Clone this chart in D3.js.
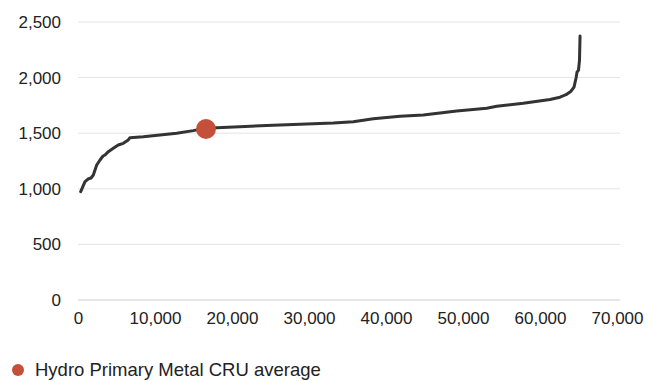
<!DOCTYPE html>
<html><head><meta charset="utf-8">
<script src="https://cdn.jsdelivr.net/npm/d3@7"></script>
<style>body{margin:0;background:#fff}svg{display:block}</style>
</head><body>
<svg id="c" width="651" height="381"></svg>
<script>
const xTicks = [0,10000,20000,30000,40000,50000,60000,70000];
const yTicks = [0,500,1000,1500,2000,2500];
const capacity = [350,909,1300,1690,1990,2430,2860,3250,3510,3940,4580,5230,5880,6530,6750,8480,10650,12820,14970,16490,18010,21000,24510,28830,33160,35750,38350,41820,44840,49180,53080,54380,57830,61300,62600,63380,64030,64420,64680,64810,65000,65130,65200];
const cost = [974,1064,1088,1097,1124,1214,1259,1295,1304,1334,1364,1394,1409,1439,1460,1469,1484,1499,1523,1544,1548,1558,1570,1581,1592,1603,1630,1652,1664,1700,1724,1742,1769,1803,1824,1846,1878,1915,1996,2050,2068,2158,2374];
const hydroX = [16620];
const hydroY = [1538];
const legendLabel = "Hydro Primary Metal CRU average";

const svg = d3.select("#c");
const x = d3.scaleLinear().domain([0,70000]).range([78,617]);
const y = d3.scaleLinear().domain([0,2500]).range([300,22]);
const font = "Liberation Sans, Arial, sans-serif";

// grid
svg.append("g").selectAll("line").data(yTicks).join("line")
  .attr("x1",78).attr("x2",620)
  .attr("y1",d=>y(d)).attr("y2",d=>y(d))
  .attr("stroke",d=>d===0?"#cfcfcf":"#e4e4e4").attr("stroke-width",1);

// y axis labels
const yAxis = d3.axisLeft(y).tickValues(yTicks).tickFormat(d3.format(",")).tickSize(0).tickPadding(0);
const gy = svg.append("g").attr("transform","translate(61,0)").call(yAxis);
gy.select(".domain").remove();
gy.selectAll("text").attr("font-family",font).attr("font-size",17).attr("fill","#222");

const xAxis = d3.axisBottom(x).tickValues(xTicks).tickFormat(d3.format(",")).tickSize(0).tickPadding(0);
const gx = svg.append("g").attr("transform","translate(0,312)").call(xAxis);
gx.select(".domain").remove();
gx.selectAll("text").attr("font-family",font).attr("font-size",17).attr("fill","#222");

// line
const pts = capacity.map((c,i)=>[c,cost[i]]);
svg.append("path").datum(pts)
  .attr("d", d3.line().x(d=>x(d[0])).y(d=>y(d[1])))
  .attr("fill","none").attr("stroke","#333").attr("stroke-width",3)
  .attr("stroke-linejoin","round").attr("stroke-linecap","round");

// hydro dot
svg.append("g").selectAll("circle").data(hydroX.map((v,i)=>[v,hydroY[i]])).join("circle")
  .attr("cx",d=>x(d[0])).attr("cy",d=>y(d[1])).attr("r",10).attr("fill","#c5503a");

// legend
svg.append("circle").attr("cx",18).attr("cy",370).attr("r",6).attr("fill","#c5503a");
svg.append("text").attr("x",35).attr("y",376).attr("font-family",font).attr("font-size",18.5)
  .attr("fill","#222").text(legendLabel);
</script>
</body></html>
